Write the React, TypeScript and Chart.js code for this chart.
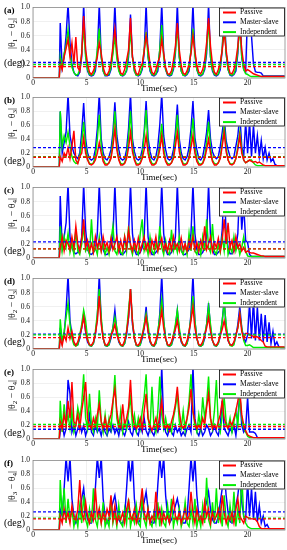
import React, { useEffect, useRef } from "react";
import { Chart, registerables } from "chart.js";

Chart.register(...registerables);

const FONT = "'Liberation Serif', 'Times New Roman', 'DejaVu Serif', serif";

const SERIES_NAMES = ["Passive", "Master-slave", "Independent"];
const SERIES_COLORS = ["#ff0000", "#0000ff", "#00ee00"];

// sampling grid of the recorded time series (sec)
const LEAD_TIMES = [0, 2.45];
const GRID_START = 2.54;
const GRID_STEP = 0.182;
const GRID_COUNT = 116;
const TIME = [...LEAD_TIMES, ...Array.from({ length: GRID_COUNT }, (_, i) => GRID_START + i * GRID_STEP)];

const X_MAX = 23.5;
const PANEL_TAGS = ["(a)", "(b)", "(c)", "(d)", "(e)", "(f)"];
const PANEL_PAIRS = [["1", "2"], ["1", "3"], ["1", "4"], ["2", "3"], ["2", "4"], ["3", "4"]];

// dashed average lines
const MEAN_PASSIVE = [0.16, 0.14, 0.13, 0.16, 0.18, 0.16];
const MEAN_MASTER = [0.22, 0.28, 0.23, 0.21, 0.14, 0.26];
const MEAN_INDEP = [0.19, 0.15, 0.13, 0.2, 0.21, 0.17];

// ---------- (a) |θ1-θ2| ----------
const A_PASSIVE = [0, 0,
  .22, .12, .3, .42, .55, .3, .5, .2,
  .58, .15, .1, .35, .88, .4, .2, .08,
  .05, .1, .18, .3, .5, .35, .15, .06,
  .04, .1, .22, .45, .7, .4, .18, .07,
  .05, .12, .25, .4, .85, .3, .15, .06,
  .05, .15, .2, .38, .6, .42, .2, .08,
  .05, .12, .22, .3, .55, .35, .15, .06,
  .05, .1, .25, .45, .78, .4, .18, .07,
  .05, .1, .2, .35, .6, .38, .18, .08,
  .06, .12, .25, .5, .85, .45, .2, .08,
  .05, .12, .22, .4, .65, .4, .18, .07,
  .06, .12, .25, .45, .75, .4, .2, .1,
  .12, .1, .08, .06, .05, .04, .03, .02, .02, .02, .02, .02, .02, .02, .02, .02, .02, .02, .02, .02];
const A_MASTER = [0, 0,
  .78, .15, .3, .6, 1.05, .5, .2, .08,
  .04, .03, .08, .3, 1.05, .35, .1, .04,
  .03, .04, .1, .35, 1.05, .3, .1, .03,
  .03, .04, .12, .4, 1.05, .35, .12, .04,
  .03, .05, .1, .3, .9, .3, .1, .04,
  .03, .05, .12, .35, 1.05, .3, .1, .04,
  .03, .05, .1, .4, 1.05, .35, .12, .04,
  .03, .04, .12, .35, 1.05, .3, .1, .04,
  .03, .05, .1, .4, 1.05, .35, .12, .04,
  .03, .05, .12, .35, 1.05, .3, .1, .04,
  .03, .05, .12, .4, 1.05, .35, .12, .04,
  .03, .05, .1, .35, 1.05, .3, .12, .08,
  .95, .9, .6, .2, .09, .08, .08, .07, .03, .03, .03, .03, .03, .03, .03, .03, .03, .03, .03, .03];
const A_INDEP = [0, 0,
  .3, .15, .35, .45, .68, .35, .15, .08,
  .04, .05, .12, .35, .72, .3, .12, .05,
  .04, .05, .15, .4, .7, .3, .1, .04,
  .04, .06, .15, .35, .6, .28, .1, .04,
  .04, .05, .12, .35, .65, .3, .1, .04,
  .04, .06, .15, .4, .65, .3, .12, .05,
  .04, .06, .15, .4, .75, .3, .12, .05,
  .04, .05, .15, .38, .72, .3, .1, .04,
  .04, .06, .15, .4, .7, .32, .12, .05,
  .04, .06, .15, .42, .78, .3, .12, .05,
  .04, .06, .16, .42, .8, .35, .12, .05,
  .04, .06, .15, .4, .72, .3, .12, .06,
  .05, .03, .02, .02, .02, .02, .02, .02, .02, .02, .02, .02, .02, .02, .02, .02, .02, .02, .02, .02];

// ---------- (b) |θ1-θ3| ----------
const B_PASSIVE = [0, 0,
  .15, .08, .2, .15, .28, .12, .3, .52,
  .1, .05, .15, .2, .42, .2, .1, .04,
  .03, .05, .1, .2, .35, .2, .08, .03,
  .03, .06, .12, .3, .55, .25, .1, .03,
  .03, .05, .12, .28, .5, .22, .1, .03,
  .03, .05, .12, .25, .45, .2, .08, .03,
  .03, .05, .12, .25, .45, .2, .08, .03,
  .03, .06, .12, .3, .5, .22, .1, .03,
  .03, .05, .12, .28, .45, .2, .08, .03,
  .03, .05, .12, .25, .4, .2, .08, .03,
  .03, .06, .12, .3, .5, .22, .1, .04,
  .03, .05, .12, .25, .45, .2, .1, .06,
  .08, .1, .08, .07, .08, .06, .07, .05, .03, .02, .02, .02, .02, .02, .02, .02, .02, .02, .02, .02];
const B_MASTER = [0, 0,
  .8, .2, .35, .5, 1.05, .45, .3, .2,
  .15, .12, .2, .5, .92, .4, .2, .12,
  .1, .12, .25, .55, 1.05, .4, .2, .12,
  .1, .15, .25, .5, .93, .45, .25, .12,
  .1, .12, .25, .55, 1.05, .4, .22, .12,
  .1, .12, .25, .5, .95, .42, .22, .12,
  .1, .15, .3, .6, 1.05, .45, .25, .12,
  .1, .12, .25, .5, .9, .4, .2, .12,
  .1, .15, .28, .55, .95, .42, .25, .12,
  .1, .15, .3, .5, .82, .4, .22, .15,
  .12, .15, .3, .5, .72, .38, .25, .15,
  .12, .15, .3, .45, .75, .3, .15, .65,
  .2, .65, .15, .6, .2, .45, .15, .38, .12, .28, .1, .2, .08, .12, .04, .02, .02, .02, .02, .02];
const B_INDEP = [0, 0,
  .8, .3, .45, .35, .5, .3, .15, .08,
  .05, .06, .15, .35, .65, .3, .12, .05,
  .04, .06, .15, .4, .75, .3, .12, .05,
  .04, .06, .15, .4, .8, .3, .12, .05,
  .04, .06, .15, .42, .8, .32, .12, .05,
  .04, .06, .15, .45, .82, .3, .12, .05,
  .04, .06, .15, .35, .62, .28, .1, .05,
  .04, .06, .15, .4, .75, .3, .12, .05,
  .04, .06, .15, .38, .7, .3, .12, .05,
  .04, .06, .15, .35, .65, .28, .1, .05,
  .04, .06, .15, .35, .6, .28, .1, .05,
  .04, .06, .12, .3, .5, .25, .1, .06,
  .08, .1, .1, .06, .03, .02, .02, .02, .02, .02, .02, .02, .02, .02, .02, .02, .02, .02, .02, .02];

// ---------- (c) |θ1-θ4| ----------
const C_PASSIVE = [0, 0,
  .15, .3, .1, .25, .2, .12, .3, .15,
  .45, .2, .1, .28, .55, .15, .25, .1,
  .2, .08, .3, .15, .25, .1, .3, .15,
  .22, .1, .28, .12, .2, .3, .1, .25,
  .12, .3, .15, .4, .2, .1, .25, .12,
  .28, .1, .2, .3, .12, .22, .08, .25,
  .15, .3, .1, .2, .28, .12, .2, .1,
  .25, .12, .3, .15, .2, .1, .28, .12,
  .2, .1, .25, .15, .3, .12, .22, .1,
  .25, .15, .45, .12, .2, .3, .1, .22,
  .15, .28, .1, .25, .55, .2, .5, .15,
  .25, .1, .3, .15, .2, .1, .15, .08,
  .1, .08, .07, .07, .06, .05, .04, .03, .03, .02, .02, .02, .02, .02, .02, .02, .02, .02, .02, .02];
const C_MASTER = [0, 0,
  .88, .15, .3, .5, 1.05, .3, .15, .08,
  .06, .08, .12, .3, 1.05, .4, .12, .06,
  .05, .08, .12, .35, 1.05, .35, .12, .05,
  .05, .08, .15, .3, 1.05, .3, .12, .05,
  .05, .08, .12, .35, 1.05, .35, .12, .05,
  .05, .08, .15, .3, 1.05, .3, .12, .05,
  .05, .08, .12, .35, 1.05, .35, .12, .05,
  .05, .08, .15, .3, 1.05, .3, .12, .05,
  .05, .08, .12, .35, 1.05, .35, .12, .05,
  .05, .08, .15, .3, 1.05, .3, .12, .05,
  .05, .08, .12, .4, 1.05, .35, .15, .06,
  .06, .1, .15, .35, 1.05, .4, .75, .25,
  .22, .05, .02, .02, .02, .02, .02, .02, .02, .02, .02, .02, .02, .02, .02, .02, .02, .02, .02, .02];
const C_INDEP = [0, 0,
  .45, .1, .3, .15, .35, .08, .2, .05,
  .4, .1, .05, .2, .45, .1, .15, .05,
  .55, .08, .15, .05, .3, .1, .2, .05,
  .15, .05, .25, .45, .1, .05, .2, .08,
  .05, .3, .1, .45, .15, .05, .2, .1,
  .05, .35, .55, .1, .2, .05, .3, .1,
  .05, .2, .1, .45, .15, .05, .25, .08,
  .05, .4, .1, .2, .08, .3, .1, .05,
  .2, .05, .35, .1, .45, .1, .05, .2,
  .05, .3, .1, .55, .15, .08, .48, .1,
  .05, .2, .08, .3, .1, .4, .05, .15,
  .08, .3, .1, .2, .05, .15, .3, .1,
  .03, .02, .02, .02, .02, .02, .02, .02, .02, .02, .02, .02, .02, .02, .02, .02, .02, .02, .02, .02];

// ---------- (d) |θ2-θ3| ----------
const D_PASSIVE = [0, 0,
  .15, .05, .2, .12, .3, .15, .25, .1,
  .05, .1, .2, .3, .45, .25, .12, .06,
  .05, .1, .22, .4, .75, .35, .15, .06,
  .05, .1, .2, .25, .35, .2, .12, .06,
  .05, .12, .25, .45, .85, .4, .15, .06,
  .05, .1, .2, .3, .45, .25, .12, .06,
  .05, .12, .22, .35, .55, .3, .15, .06,
  .05, .1, .2, .28, .4, .22, .12, .06,
  .05, .12, .25, .4, .6, .3, .15, .06,
  .05, .1, .2, .3, .45, .25, .12, .06,
  .05, .1, .2, .28, .4, .25, .12, .06,
  .05, .1, .2, .3, .5, .25, .15, .22,
  .22, .2, .19, .18, .18, .17, .15, .12, .1, .04, .03, .03, .03, .03, .03, .03, .03, .03, .03, .03];
const D_MASTER = [0, 0,
  .3, .1, .2, .55, 1.05, .4, .2, .08,
  .05, .06, .15, .3, .5, .25, .1, .05,
  .04, .08, .2, .45, 1.05, .4, .15, .05,
  .04, .06, .15, .3, .55, .25, .1, .05,
  .04, .08, .2, .45, .85, .35, .15, .05,
  .04, .06, .15, .3, .6, .25, .1, .05,
  .04, .08, .2, .5, 1.05, .4, .15, .05,
  .04, .06, .15, .3, .55, .25, .1, .05,
  .04, .08, .2, .5, 1.05, .4, .15, .05,
  .04, .06, .15, .35, .65, .3, .12, .05,
  .04, .08, .18, .4, .7, .3, .12, .06,
  .05, .08, .18, .35, .6, .3, .15, .1,
  .2, .65, .15, .7, .12, .6, .12, .5, .1, .48, .1, .38, .08, .25, .05, .1, .03, .02, .02, .02];
const D_INDEP = [0, 0,
  .42, .1, .25, .45, .65, .35, .15, .06,
  .04, .06, .2, .35, .55, .4, .15, .05,
  .04, .08, .25, .5, .85, .45, .15, .05,
  .04, .06, .2, .3, .45, .3, .12, .05,
  .04, .08, .25, .55, .85, .4, .15, .05,
  .04, .06, .2, .35, .5, .35, .12, .05,
  .04, .08, .25, .45, .7, .4, .15, .05,
  .04, .06, .2, .35, .55, .3, .12, .05,
  .04, .08, .25, .45, .75, .4, .15, .05,
  .04, .06, .2, .35, .6, .35, .12, .05,
  .04, .08, .22, .4, .65, .35, .15, .05,
  .04, .06, .2, .3, .5, .3, .12, .05,
  .05, .06, .04, .02, .02, .02, .02, .02, .02, .02, .02, .02, .02, .02, .02, .02, .02, .02, .02, .02];

// ---------- (e) |θ2-θ4| ----------
const E_PASSIVE = [0, 0,
  .25, .15, .35, .2, .55, .3, .82, .25,
  .2, .35, .15, .4, .6, .82, .3, .2,
  .15, .3, .2, .35, .5, .25, .15, .3,
  .15, .25, .35, .55, .72, .4, .2, .15,
  .5, .2, .3, .45, .85, .35, .2, .15,
  .2, .3, .15, .4, .65, .3, .2, .12,
  .2, .3, .15, .35, .55, .25, .15, .2,
  .12, .25, .35, .5, .75, .4, .2, .15,
  .2, .3, .45, .72, .4, .25, .15, .2,
  .15, .3, .2, .45, .65, .3, .15, .2,
  .15, .25, .35, .55, .3, .2, .15, .25,
  .2, .3, .4, .55, .7, .35, .2, .12,
  .06, .04, .03, .02, .02, .02, .02, .02, .02, .02, .02, .02, .02, .02, .02, .02, .02, .02, .02, .02];
const E_MASTER = [0, 0,
  .1, .2, .05, .15, .85, .65, .1, .2,
  .05, .15, .25, .1, .2, .05, .15, .35,
  .1, .05, .2, .1, .15, .05, .2, .1,
  .05, .15, .1, .2, .08, .15, .05, .2,
  .1, .05, .15, .25, .1, .05, .2, .1,
  .05, .2, .1, .3, .12, .05, .15, .1,
  .05, .15, .1, .2, 1.05, .25, .1, .05,
  .15, .1, .05, .2, .1, .15, .05, .1,
  .05, .15, .2, .1, 1.05, .3, .1, .05,
  .15, .05, .1, .2, .15, .05, .1, .2,
  .1, .05, .2, .55, .15, .1, .05, .15,
  .1, .2, .05, .3, .65, .2, .1, .15,
  .6, .1, .1, .1, .08, .02, .02, .02, .02, .02, .02, .02, .02, .02, .02, .02, .02, .02, .02, .02];
const E_INDEP = [0, 0,
  .55, .1, .5, .2, .35, .15, .4, .1,
  .2, .45, .3, .5, .93, .3, .15, .65,
  .2, .1, .3, .15, .7, .25, .1, .35,
  .1, .3, .15, .5, .92, .3, .15, .4,
  .1, .25, .15, .4, .6, .2, .35, .12,
  .3, .15, .4, .6, .93, .3, .15, .75,
  .2, .1, .4, .9, .35, .15, .3, .12,
  .2, .1, .3, .45, .65, .25, .15, .4,
  .12, .3, .55, .93, .4, .2, .1, .35,
  .15, .6, .3, .5, .9, .3, .15, .4,
  .85, .2, .1, .35, .6, .25, .15, .3,
  .1, .25, .4, .2, .65, .3, .15, .1,
  .04, .02, .02, .02, .02, .02, .02, .02, .02, .02, .02, .02, .02, .02, .02, .02, .02, .02, .02, .02];

// ---------- (f) |θ3-θ4| ----------
const F_PASSIVE = [0, 0,
  .2, .1, .3, .15, .25, .1, .35, .2,
  .15, .3, .72, .25, .15, .4, .2, .1,
  .25, .15, .6, .2, .3, .1, .25, .15,
  .3, .2, .5, .15, .35, .1, .2, .15,
  .25, .1, .3, .42, .2, .15, .3, .1,
  .2, .35, .6, .25, .15, .3, .1, .2,
  .15, .55, .2, .3, .1, .25, .15, .2,
  .1, .3, .45, .2, .15, .25, .1, .2,
  .3, .15, .2, .55, .25, .1, .3, .15,
  .2, .1, .4, .2, .3, .1, .25, .15,
  .2, .3, .15, .5, .25, .1, .2, .15,
  .25, .1, .3, .45, .2, .15, .1, .2,
  .18, .17, .16, .16, .15, .12, .05, .02, .02, .02, .02, .02, .02, .02, .02, .02, .02, .02, .02, .02];
const F_MASTER = [0, 0,
  .3, .2, .6, 1.05, .7, 1.05, .45, .2,
  .1, .15, .3, .45, .6, .3, .15, .1,
  .1, .2, .6, 1.05, .75, 1.05, .45, .2,
  .1, .15, .3, .4, .5, .3, .15, .1,
  .1, .2, .6, 1.05, .7, 1.05, .45, .2,
  .1, .15, .3, .4, .55, .3, .15, .1,
  .1, .2, .65, 1.05, .75, 1.05, .5, .2,
  .1, .15, .25, .35, .45, .3, .15, .1,
  .1, .2, .6, 1.05, .7, 1.05, .5, .2,
  .1, .15, .3, .4, .55, .3, .15, .1,
  .1, .2, .4, .6, .85, .5, .25, .12,
  .1, .2, .35, .5, .75, .4, .2, .15,
  .7, .2, .6, .15, .55, .12, .35, .1, .2, .05, .08, .02, .02, .02, .02, .02, .02, .02, .02, .02];
const F_INDEP = [0, 0,
  .72, .2, .6, .1, .45, .15, .3, .05,
  .2, .05, .35, .1, .5, .15, .05, .3,
  .1, .6, .15, .05, .3, .1, .4, .05,
  .15, .05, .45, .1, .25, .05, .35, .1,
  .05, .3, .1, .45, .05, .2, .1, .35,
  .1, .05, .5, .15, .05, .3, .1, .05,
  .25, .1, .4, .05, .3, .1, .05, .35,
  .1, .45, .05, .2, .1, .3, .05, .15,
  .4, .1, .05, .3, .1, .45, .05, .2,
  .05, .35, .1, .75, .15, .05, .4, .1,
  .6, .1, .3, .05, .5, .15, .05, .35,
  .1, .55, .05, .3, .1, .8, .2, .1,
  .05, .03, .02, .02, .02, .02, .02, .02, .02, .02, .02, .02, .02, .02, .02, .02, .02, .02, .02, .02];

const PASSIVE = [A_PASSIVE, B_PASSIVE, C_PASSIVE, D_PASSIVE, E_PASSIVE, F_PASSIVE];
const MASTER = [A_MASTER, B_MASTER, C_MASTER, D_MASTER, E_MASTER, F_MASTER];
const INDEP = [A_INDEP, B_INDEP, C_INDEP, D_INDEP, E_INDEP, F_INDEP];

// layout (px)
const PLOT_TOPS = [6, 96, 186, 277, 368, 459];
const PLOT_HEIGHTS = [72, 71, 72, 72, 71, 71];
const DEG_LEVEL = [0.21, 0.075, 0.09, 0.1, 0.08, 0.09];
const PAD_TOP = 6;
const X_AXIS_H = 22;

function toPoints(values: number[]) {
  return values.map((v, i) => ({ x: TIME[i], y: v }));
}

function Panel({ idx }: { idx: number }) {
  const ref = useRef<HTMLCanvasElement>(null);
  const h = PAD_TOP + PLOT_HEIGHTS[idx] + X_AXIS_H;
  useEffect(() => {
    const canvas = ref.current!;
    const meanLine = (m: number, color: string) => ({
      data: [{ x: 0, y: m }, { x: X_MAX, y: m }],
      borderColor: color,
      borderWidth: 1.3,
      borderDash: [3, 2],
      pointRadius: 0,
    });
    const series = (vals: number[], color: string) => ({
      data: toPoints(vals),
      borderColor: color,
      borderWidth: 1.45,
      pointRadius: 0,
      tension: 0,
    });
    const decor = {
      id: "decor" + idx,
      afterDraw(chart: any) {
        const { ctx, chartArea: ca } = chart;
        ctx.save();
        ctx.strokeStyle = "#8a8a8a";
        ctx.lineWidth = 0.8;
        ctx.strokeRect(ca.left, ca.top, ca.right - ca.left, ca.bottom - ca.top);
        // legend
        const lx = 219, ly = ca.top, lw = ca.right - lx, lh = 29;
        ctx.fillStyle = "#fff";
        ctx.fillRect(lx, ly, lw, lh);
        ctx.strokeStyle = "#000";
        ctx.lineWidth = 0.8;
        ctx.strokeRect(lx + 0.5, ly + 0.5, lw - 1, lh - 1);
        ctx.textBaseline = "middle";
        ctx.textAlign = "left";
        SERIES_NAMES.forEach((name, j) => {
          const yy = ly + 5 + j * 9.8;
          ctx.strokeStyle = SERIES_COLORS[j];
          ctx.lineWidth = 2;
          ctx.beginPath();
          ctx.moveTo(lx + 4, yy);
          ctx.lineTo(lx + 17, yy);
          ctx.stroke();
          ctx.fillStyle = "#000";
          ctx.font = `7.5px ${FONT}`;
          ctx.fillText(name, lx + 21, yy);
        });
        // x title
        ctx.fillStyle = "#000";
        ctx.font = `9px ${FONT}`;
        ctx.textAlign = "center";
        ctx.fillText("Time(sec)", (ca.left + ca.right) / 2, ca.bottom + 11);
        // tag
        ctx.font = `bold 9px ${FONT}`;
        ctx.textAlign = "left";
        ctx.fillText(PANEL_TAGS[idx], 4, ca.top + 3);
        // (deg)
        const yDeg = chart.scales.y.getPixelForValue(DEG_LEVEL[idx]);
        ctx.font = `10px ${FONT}`;
        ctx.fillText("(deg)", 4, yDeg);
        // rotated label
        ctx.translate(12, ca.top + 26);
        ctx.rotate(-Math.PI / 2);
        const big = `10px ${FONT}`, small = `7px ${FONT}`;
        const [s1, s2] = PANEL_PAIRS[idx];
        const parts: [string, string, number][] = [
          ["|θ", big, 0], [s1, small, 3], [" − θ", big, 0], [s2, small, 3], ["|", big, 0],
        ];
        let total = 0;
        parts.forEach(([t, f]) => { ctx.font = f; total += ctx.measureText(t).width; });
        let x = -total / 2;
        parts.forEach(([t, f, dy]) => {
          ctx.font = f;
          ctx.fillText(t, x, dy);
          x += ctx.measureText(t).width;
        });
        ctx.restore();
      },
    };
    const chart = new Chart(canvas, {
      type: "line",
      data: {
        datasets: [
          meanLine(MEAN_PASSIVE[idx], SERIES_COLORS[0]),
          meanLine(MEAN_INDEP[idx], SERIES_COLORS[2]),
          meanLine(MEAN_MASTER[idx], SERIES_COLORS[1]),
          series(PASSIVE[idx], SERIES_COLORS[0]),
          series(INDEP[idx], SERIES_COLORS[2]),
          series(MASTER[idx], SERIES_COLORS[1]),
        ] as any,
      },
      options: {
        animation: false,
        responsive: false,
        devicePixelRatio: 1,
        events: [],
        layout: { padding: { top: PAD_TOP, left: 0, right: 2, bottom: 0 } },
        plugins: { legend: { display: false }, tooltip: { enabled: false } },
        scales: {
          x: {
            type: "linear",
            min: 0,
            max: X_MAX,
            afterFit: (s: any) => { s.height = X_AXIS_H; },
            ticks: { stepSize: 5, includeBounds: false, padding: 1, maxRotation: 0, color: "#111", font: { family: FONT, size: 7.5 } },
            grid: { color: "#e6e6e6", lineWidth: 0.6, drawTicks: false },
            border: { display: false },
          },
          y: {
            min: 0,
            max: 1,
            afterFit: (s: any) => { s.width = 33; },
            ticks: { stepSize: 0.2, padding: 3, color: "#111", font: { family: FONT, size: 7.5 } },
            grid: { color: "#e6e6e6", lineWidth: 0.6, drawTicks: false },
            border: { display: false },
          },
        },
      } as any,
      plugins: [decor],
    });
    return () => chart.destroy();
  }, [idx]);
  return (
    <canvas
      ref={ref}
      width={287}
      height={h}
      style={{ position: "absolute", left: 0, top: PLOT_TOPS[idx] - PAD_TOP, width: 287, height: h, display: "block" }}
    />
  );
}

export default function App() {
  return (
    <div style={{ position: "absolute", left: 0, top: 0, width: 287, height: 550, overflow: "hidden", background: "#fff" }}>
      {PANEL_TAGS.map((_, i) => (
        <Panel key={i} idx={i} />
      ))}
    </div>
  );
}
